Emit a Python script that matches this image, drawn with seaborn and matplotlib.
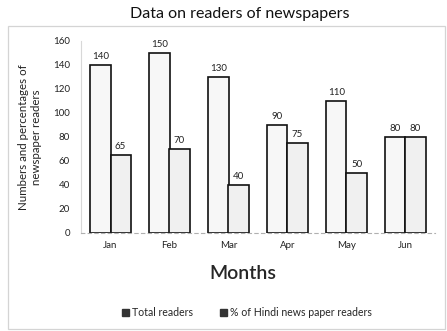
import matplotlib
matplotlib.use("Agg")
import matplotlib.pyplot as plt
from matplotlib.patches import Rectangle, Patch
import seaborn as sns
import pandas as pd

months = ["Jan", "Feb", "Mar", "Apr", "May", "Jun"]
total_readers = [140, 150, 130, 90, 110, 80]
hindi_readers = [65, 70, 40, 75, 50, 80]
series_names = ["Total readers", "% of Hindi news paper readers"]

df = pd.DataFrame({
    "Month": months * 2,
    "Value": total_readers + hindi_readers,
    "Series": [series_names[0]] * len(months) + [series_names[1]] * len(months),
})

sns.set_theme(style="white")
plt.rcParams["font.family"] = ["Lato", "DejaVu Sans"]

fig = plt.figure(figsize=(4.47, 3.31), dpi=100)
ax = fig.add_axes([81 / 447, 98 / 331, 354 / 447, 192 / 331])

sns.barplot(
    data=df, x="Month", y="Value", hue="Series", order=months,
    hue_order=series_names, palette=["#f7f7f7", "#f0f0f0"],
    width=0.68, gap=0, edgecolor="#111111", linewidth=1.2,
    legend=False, ax=ax,
)

for container in ax.containers:
    ax.bar_label(container, fontsize=7, padding=3, color="#222222")

ax.set_ylim(0, 160)
ax.set_yticks(range(0, 161, 20))
ax.tick_params(axis="both", length=0, labelsize=7, colors="#222222", pad=8)
ax.tick_params(axis="x", pad=6)
ax.set_xlabel("Months", fontsize=14, fontweight="semibold")
ax.xaxis.set_label_coords((243 - 81) / 354, -32 / 192)
ax.set_ylabel("Numbers and percentages of\nnewspaper readers", fontsize=8.3,
              color="#222222")
ax.yaxis.set_label_coords(-(81 - 42) / 354, 0.5)

for side in ["top", "right"]:
    ax.spines[side].set_visible(False)
ax.spines["left"].set_color("#d8d8d8")
ax.spines["left"].set_linewidth(0.8)
ax.spines["bottom"].set_color("#b0b0b0")
ax.spines["bottom"].set_linestyle((0, (3, 3)))
ax.spines["bottom"].set_linewidth(0.8)

fig.text(240 / 447, 1 - 14 / 331, "Data on readers of newspapers",
         ha="center", va="center", fontsize=11.5, color="#111111")

frame = Rectangle((8 / 447, 2 / 331), 437 / 447, 303 / 331,
                  transform=fig.transFigure, fill=False,
                  edgecolor="#d4d4d4", linewidth=0.9)
fig.patches.append(frame)

handles = [Patch(facecolor="#333333", edgecolor="#333333") for _ in series_names]
fig.legend(handles, series_names, loc="center",
           bbox_to_anchor=(247 / 447, 18 / 331), ncol=2, frameon=False,
           fontsize=7.6, handlelength=0.6, handleheight=0.6,
           handletextpad=0.3, columnspacing=2.6)

fig.savefig("out.png", dpi=100)
